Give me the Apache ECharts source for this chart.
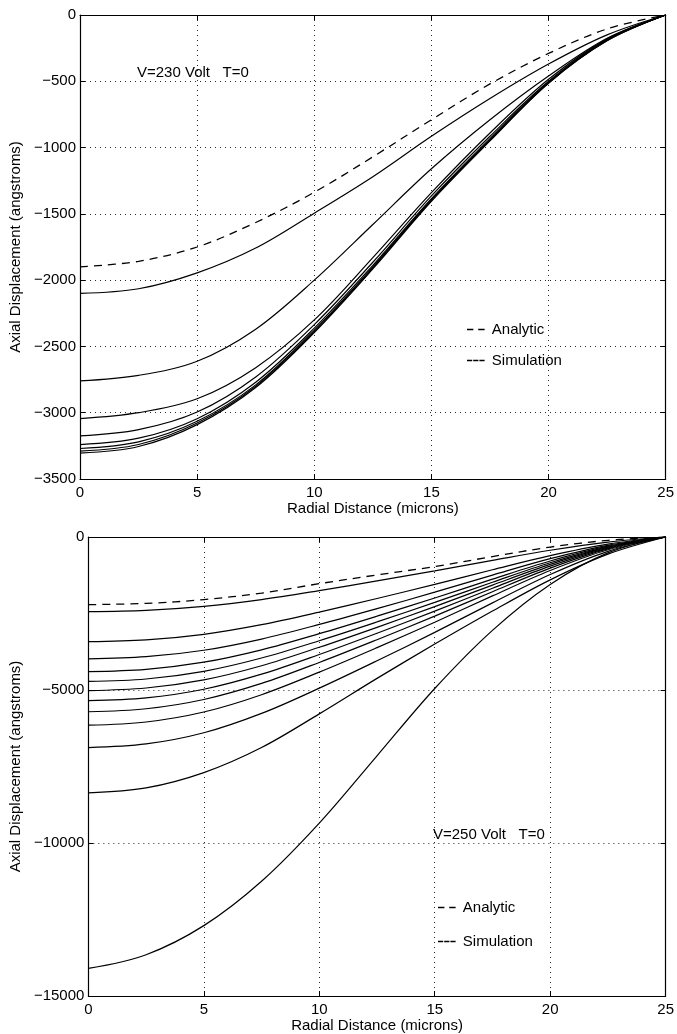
<!DOCTYPE html>
<html>
<head>
<meta charset="utf-8">
<script src="https://cdn.jsdelivr.net/npm/echarts@6/dist/echarts.min.js"></script>
<style>
  html, body { margin: 0; padding: 0; background: #fff; }
  #chart { width: 677px; height: 1034px; }
</style>
</head>
<body>
<div id="chart"></div>
<script>
// ---------- data ----------
const xs = [0, 2.5, 5, 7.5, 10, 12.5, 15, 17.5, 20, 22.5, 25];

// V = 230 Volt
const topAnalytic = [-1900, -1858, -1750, -1565, -1337, -1070, -790, -520, -290, -105, 0];
const topSim1 = [-2100, -2065, -1945, -1758, -1495, -1220, -915, -630, -370, -150, 0];
const topSim2 = [-2760, -2718, -2612, -2370, -2000, -1580, -1160, -790, -460, -175, 0];
const topSim3 = [-3045, -3000, -2895, -2660, -2300, -1830, -1340, -890, -485, -180, 0];
const topSim4 = [-3175, -3128, -2995, -2730, -2335, -1865, -1365, -915, -500, -185, 0];
const topSim5 = [-3240, -3192, -3045, -2770, -2362, -1888, -1385, -932, -507, -189, 0];
const topSim6 = [-3270, -3220, -3065, -2790, -2377, -1900, -1393, -940, -510, -191, 0];
const topSim7 = [-3290, -3240, -3078, -2800, -2387, -1908, -1399, -945, -513, -193, 0];
const topSim8 = [-3305, -3255, -3090, -2810, -2395, -1915, -1405, -950, -515, -195, 0];
const topSims = [topSim1, topSim2, topSim3, topSim4, topSim5, topSim6, topSim7, topSim8];

// V = 250 Volt
const botAnalytic = [-2210, -2170, -2046, -1834, -1525, -1240, -966, -640, -329, -110, 0];
const botSim1  = [-2440, -2399, -2269, -2045, -1752, -1435, -1105, -764, -434, -166, 0];
const botSim2  = [-3420, -3362, -3181, -2866, -2456, -2011, -1549, -1070, -609, -233, 0];
const botSim3  = [-3980, -3912, -3701, -3335, -2858, -2340, -1803, -1246, -708, -271, 0];
const botSim4  = [-4400, -4325, -4092, -3687, -3159, -2587, -1993, -1377, -783, -299, 0];
const botSim5  = [-4720, -4640, -4390, -3955, -3389, -2775, -2138, -1477, -840, -321, 0];
const botSim6  = [-5020, -4935, -4669, -4207, -3604, -2952, -2274, -1571, -894, -341, 0];
const botSim7  = [-5350, -5259, -4976, -4483, -3841, -3146, -2424, -1675, -952, -364, 0];
const botSim8  = [-5710, -5613, -5310, -4785, -4100, -3357, -2587, -1787, -1016, -388, 0];
const botSim9  = [-6150, -6045, -5720, -5154, -4416, -3616, -2786, -1925, -1095, -418, 0];
const botSim10 = [-6880, -6763, -6398, -5765, -4940, -4045, -3117, -2153, -1225, -468, 0];
const botSim11 = [-8360, -8200, -7700, -6880, -5780, -4620, -3500, -2420, -1400, -560, 0];
const botSim12 = [-14100, -13650, -12700, -11250, -9350, -7150, -4950, -3050, -1550, -520, 0];
const botSims = [botSim1, botSim2, botSim3, botSim4, botSim5, botSim6, botSim7, botSim8,
                 botSim9, botSim10, botSim11, botSim12];

const xTicks = { min: 0, max: 25, interval: 5 };
const topY = { min: -3500, max: 0, interval: 500 };
const botY = { min: -15000, max: 0, interval: 5000 };

const xName = 'Radial Distance (microns)';
const yName = 'Axial Displacement (angstroms)';
const topNote = 'V=230 Volt   T=0';
const botNote = 'V=250 Volt   T=0';
const legendNames = ['Analytic', 'Simulation'];

// ---------- chart ----------
const FONT = 'Liberation Sans, Arial, Helvetica, sans-serif';
const FS = 15;
const SMOOTH = 0.34;
const fmt = v => (v < 0 ? '\u2212' + Math.abs(v) : String(v));
const pairs = arr => xs.map((x, i) => [x, arr[i]]);

const gridLine = { show: true, lineStyle: { color: '#000', width: 1, type: [1, 4], opacity: 0.85 } };
const axisLine = { show: true, onZero: false, lineStyle: { color: '#000', width: 1.2 } };
const tick = { show: true, inside: true, length: 5, lineStyle: { color: '#000', width: 1 } };
const lbl = { color: '#000', fontSize: FS, fontFamily: FONT };

function mainX(gridIndex) {
  return {
    type: 'value', gridIndex, position: 'bottom', ...xTicks,
    axisLine, axisTick: tick, splitLine: gridLine,
    axisLabel: { ...lbl, margin: 6, formatter: fmt },
    name: xName, nameLocation: 'middle', nameGap: 22,
    nameTextStyle: { color: '#000', fontSize: FS, fontFamily: FONT }
  };
}
function frameX(gridIndex) {
  return {
    type: 'value', gridIndex, position: 'top', ...xTicks,
    axisLine, axisTick: tick, splitLine: { show: false }, axisLabel: { show: false }
  };
}
function mainY(gridIndex, rng, gap) {
  return {
    type: 'value', gridIndex, position: 'left', ...rng,
    axisLine, axisTick: tick, splitLine: gridLine,
    axisLabel: { ...lbl, margin: 4, formatter: fmt },
    name: yName, nameLocation: 'middle', nameGap: gap,
    nameTextStyle: { color: '#000', fontSize: FS, fontFamily: FONT }
  };
}
function frameY(gridIndex, rng) {
  return {
    type: 'value', gridIndex, position: 'right', ...rng,
    axisLine, axisTick: tick, splitLine: { show: false }, axisLabel: { show: false }
  };
}

const series = [];
function addSeries(xi, yi, analytic, sims) {
  series.push({
    name: legendNames[0], type: 'line', xAxisIndex: xi, yAxisIndex: yi,
    data: pairs(analytic), smooth: SMOOTH, symbol: 'none', silent: true,
    itemStyle: { color: '#000' },
    lineStyle: { color: '#000', width: 1.3, type: [8, 6] }, z: 3
  });
  sims.forEach(s => series.push({
    name: legendNames[1], type: 'line', xAxisIndex: xi, yAxisIndex: yi,
    data: pairs(s), smooth: SMOOTH, symbol: 'none', silent: true,
    itemStyle: { color: '#000' },
    lineStyle: { color: '#000', width: 1.2, type: 'solid' }, z: 3
  }));
}
addSeries(0, 0, topAnalytic, topSims);
addSeries(2, 2, botAnalytic, botSims);

const legendData = [
  { name: legendNames[0], icon: 'path://M0,0h8v2h-8z M14,0h8v2h-8z', itemStyle: { color: '#000' } },
  { name: legendNames[1], icon: 'path://M0,0h6.5v2h-6.5z M7.75,0h6.5v2h-6.5z M15.5,0h6.5v2h-6.5z', itemStyle: { color: '#000' } }
];
const legendCommon = {
  orient: 'vertical', itemWidth: 22, itemHeight: 1.6,
  textStyle: { color: '#000', fontSize: FS, fontFamily: FONT },
  data: legendData, selectedMode: false
};

const option = {
  backgroundColor: '#fff',
  animation: false,
  grid: [
    { left: 75, top: 15, width: 595, height: 464 },
    { left: 82, top: 537, width: 585, height: 459 }
  ],
  xAxis: [mainX(0), frameX(0), mainX(1), frameX(1)],
  yAxis: [mainY(0, topY, 50), frameY(0, topY), mainY(1, botY, 59), frameY(1, botY)],
  legend: [
    { ...legendCommon, left: 462, top: 317, itemGap: 16 },
    { ...legendCommon, left: 433, top: 895, itemGap: 19 }
  ],
  graphic: [
    { type: 'text', left: 137, top: 65, silent: true,
      style: { text: topNote, fill: '#000', font: FS + 'px ' + FONT } },
    { type: 'text', left: 433, top: 827, silent: true,
      style: { text: botNote, fill: '#000', font: FS + 'px ' + FONT } }
  ],
  series
};

const chart = echarts.init(document.getElementById('chart'), null, { renderer: 'canvas' });
chart.setOption(option);
</script>
</body>
</html>
